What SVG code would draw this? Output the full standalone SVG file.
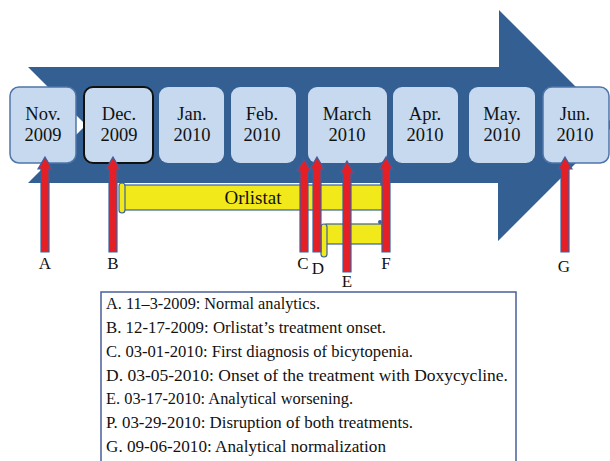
<svg xmlns="http://www.w3.org/2000/svg" width="610" height="461" viewBox="0 0 610 461">
<style>
.box{fill:#c6d9ef;}
.bl{stroke:#4f76aa;stroke-width:1.5;}
.blk{stroke:#111;stroke-width:2;}
.mt{font-family:"Liberation Serif","DejaVu Serif",serif;font-size:18.5px;fill:#111;text-anchor:middle;}
.lab{font-family:"Liberation Serif","DejaVu Serif",serif;font-size:17px;fill:#111;text-anchor:middle;}
.red{fill:#e41f26;stroke:#3b62a0;stroke-width:1.2;}
.yel{fill:#f2e91b;stroke:#3b62a0;stroke-width:1.2;}
.lg{font-family:"Liberation Serif","DejaVu Serif",serif;font-size:17px;fill:#111;}
</style>
<rect width="610" height="461" fill="#fff"/>
<g id="timeline-arrow">
<path d="M28,67 L499,67 L499,10 L614,125 L498,241 L498,183 L28,183 L86,125 Z" fill="#345f92"/>
</g>
<g id="months">
<g id="nov"><rect class="box bl" x="10" y="87" width="66" height="76" rx="9"/><text class="mt" x="43" y="120">Nov.</text><text class="mt" x="43" y="141">2009</text></g>
<g id="dec"><rect class="box blk" x="84" y="87" width="69" height="76" rx="9"/><text class="mt" x="119" y="120">Dec.</text><text class="mt" x="119" y="141">2009</text></g>
<g id="jan"><rect class="box" x="159" y="87" width="65" height="76" rx="9"/><text class="mt" x="192" y="120">Jan.</text><text class="mt" x="192" y="141">2010</text></g>
<g id="feb"><rect class="box" x="231" y="87" width="65" height="76" rx="9"/><text class="mt" x="262" y="120">Feb.</text><text class="mt" x="262" y="141">2010</text></g>
<g id="march"><rect class="box" x="308" y="87" width="79" height="76" rx="9"/><text class="mt" x="347" y="120">March</text><text class="mt" x="347" y="141">2010</text></g>
<g id="apr"><rect class="box" x="393" y="87" width="65" height="76" rx="9"/><text class="mt" x="425" y="120">Apr.</text><text class="mt" x="425" y="141">2010</text></g>
<g id="may"><rect class="box" x="469" y="87" width="66" height="76" rx="9"/><text class="mt" x="502" y="120">May.</text><text class="mt" x="502" y="141">2010</text></g>
<g id="jun"><rect class="box bl" x="543" y="87" width="66" height="76" rx="9"/><text class="mt" x="575" y="120">Jun.</text><text class="mt" x="575" y="141">2010</text></g>
</g>
<g id="orlistat">
<rect class="yel" x="123" y="185" width="262" height="25"/>
<rect class="yel" x="119" y="183" width="6" height="30" rx="3"/>
<circle cx="382" cy="184" r="2" fill="#3b62a0"/>
<text x="253" y="204" font-family="Liberation Serif, DejaVu Serif, serif" font-size="19" fill="#111" text-anchor="middle">Orlistat</text>
</g>
<g id="doxycycline">
<rect class="yel" x="326" y="224" width="56" height="20"/>
<rect class="yel" x="321" y="224" width="6" height="33" rx="3"/>
<circle cx="380" cy="222" r="2" fill="#3b62a0"/>
</g>
<g id="connectors">
<path id="arrow-a" class="red" d="M45,157 L52,169 L49,169 L49,252 L41,252 L41,169 L38,169 Z"/>
<path id="arrow-b" class="red" d="M113,157 L120,169 L117,169 L117,252 L109,252 L109,169 L106,169 Z"/>
<path id="arrow-c" class="red" d="M304,159 L311,171 L308,171 L308,252 L300,252 L300,171 L297,171 Z"/>
<path id="arrow-d" class="red" d="M317,157 L324,169 L321,169 L321,252 L313,252 L313,169 L310,169 Z"/>
<path id="arrow-e" class="red" d="M347,161 L354,173 L351,173 L351,272 L343,272 L343,173 L340,173 Z"/>
<path id="arrow-f" class="red" d="M386,157 L393,169 L390,169 L390,252 L382,252 L382,169 L379,169 Z"/>
<path id="arrow-g" class="red" d="M565,157 L572,169 L569,169 L569,252 L561,252 L561,169 L558,169 Z"/>
</g>
<g id="labels">
<text class="lab" x="45" y="269">A</text>
<text class="lab" x="113" y="269">B</text>
<text class="lab" x="303" y="269">C</text>
<text class="lab" x="318" y="274">D</text>
<text class="lab" x="347" y="287">E</text>
<text class="lab" x="386" y="269">F</text>
<text class="lab" x="564" y="272">G</text>
</g>
<g id="legend">
<rect x="101" y="292" width="415" height="180" fill="#fff" stroke="#4b5e9b" stroke-width="1.5"/>
<text class="lg" x="106" y="309" textLength="214" lengthAdjust="spacingAndGlyphs">A. 11–3-2009: Normal analytics.</text>
<text class="lg" x="106" y="333" textLength="280" lengthAdjust="spacingAndGlyphs">B. 12-17-2009: Orlistat’s treatment onset.</text>
<text class="lg" x="106" y="357" textLength="307" lengthAdjust="spacingAndGlyphs">C. 03-01-2010: First diagnosis of bicytopenia.</text>
<text class="lg" x="106" y="381" textLength="402" lengthAdjust="spacingAndGlyphs">D. 03-05-2010: Onset of the treatment with Doxycycline.</text>
<text class="lg" x="106" y="404" textLength="247" lengthAdjust="spacingAndGlyphs">E. 03-17-2010: Analytical worsening.</text>
<text class="lg" x="106" y="428" textLength="307" lengthAdjust="spacingAndGlyphs">P. 03-29-2010: Disruption of both treatments.</text>
<text class="lg" x="106" y="452" textLength="280" lengthAdjust="spacingAndGlyphs">G. 09-06-2010: Analytical normalization</text>
</g>
</svg>
